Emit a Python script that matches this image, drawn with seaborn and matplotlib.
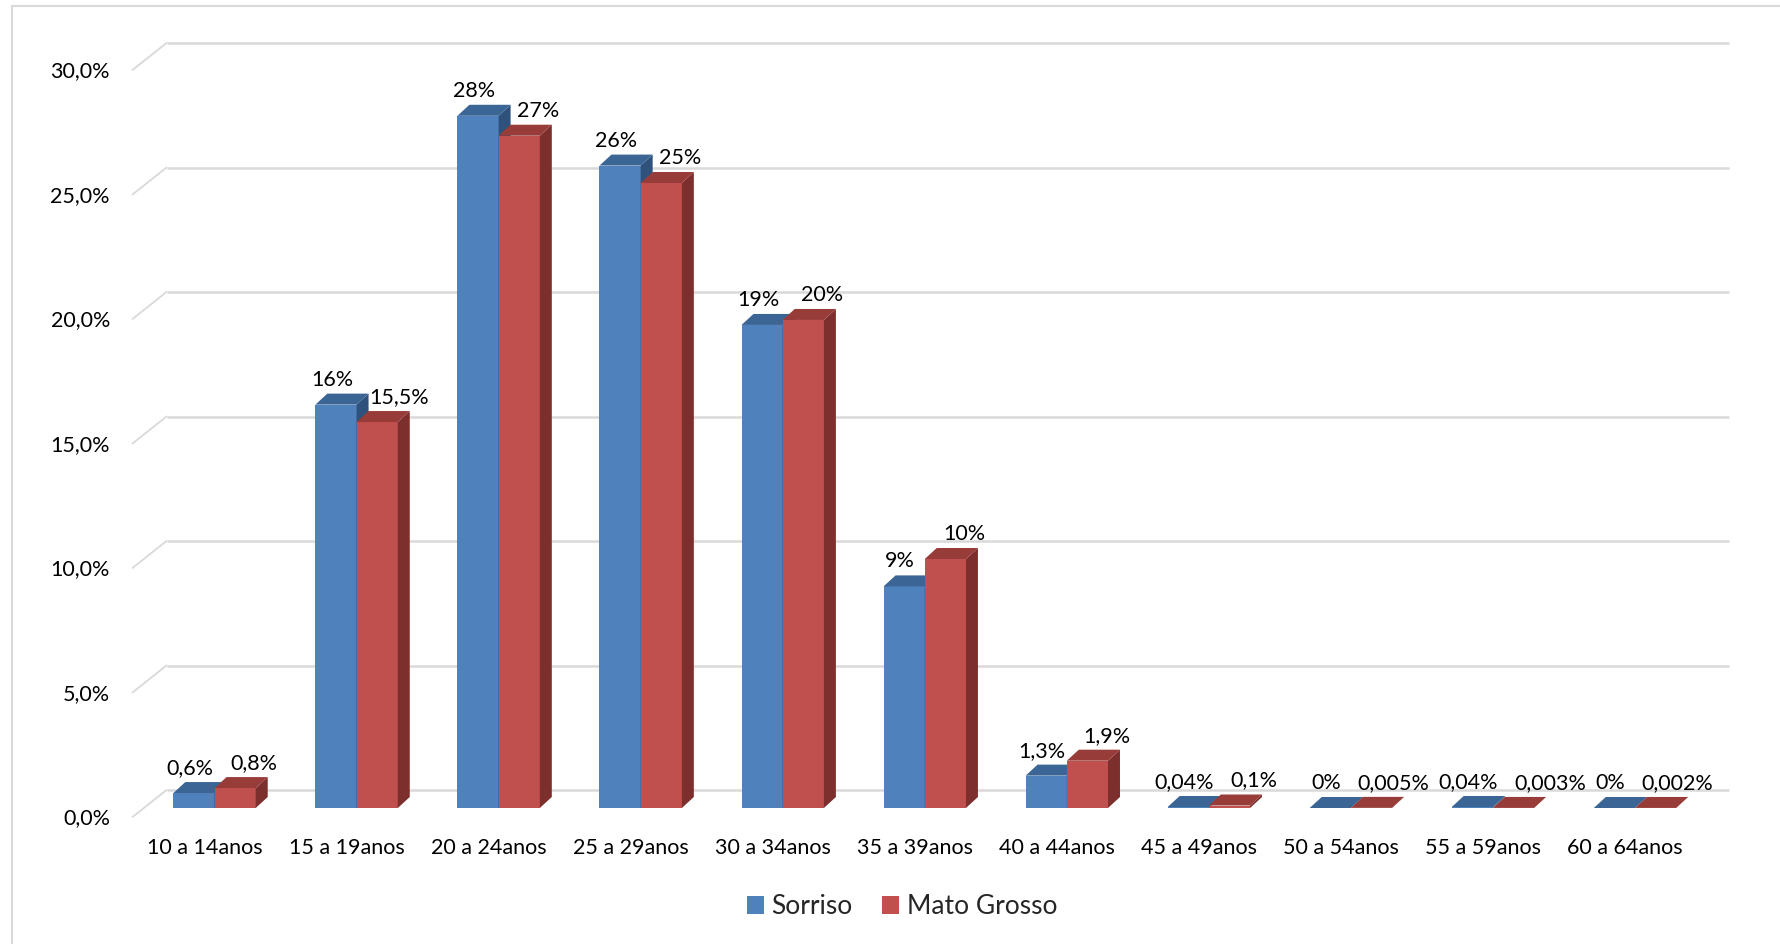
import numpy as np
import pandas as pd
import matplotlib
matplotlib.use("Agg")
import matplotlib.pyplot as plt
import seaborn as sns
from matplotlib.patches import Polygon, Patch
from matplotlib.lines import Line2D
from matplotlib.transforms import IdentityTransform, offset_copy

# ---------------- data ----------------
categories = ["10 a 14anos", "15 a 19anos", "20 a 24anos", "25 a 29anos", "30 a 34anos",
              "35 a 39anos", "40 a 44anos", "45 a 49anos", "50 a 54anos", "55 a 59anos",
              "60 a 64anos"]
series_names = ["Sorriso", "Mato Grosso"]
sorriso = [0.6, 16.2, 27.8, 25.8, 19.4, 8.9, 1.3, 0.04, 0.0, 0.04, 0.0]
mato_grosso = [0.8, 15.5, 27.0, 25.1, 19.6, 10.0, 1.9, 0.1, 0.005, 0.003, 0.002]
sorriso_labels = ["0,6%", "16%", "28%", "26%", "19%", "9%", "1,3%", "0,04%", "0%", "0,04%", "0%"]
mato_grosso_labels = ["0,8%", "15,5%", "27%", "25%", "20%", "10%", "1,9%", "0,1%", "0,005%", "0,003%", "0,002%"]
y_ticks = [0, 5, 10, 15, 20, 25, 30]
y_tick_labels = ["0,0%", "5,0%", "10,0%", "15,0%", "20,0%", "25,0%", "30,0%"]

# ---------------- style ----------------
front_colors = ["#4F81BD", "#C0504D"]
top_colors = ["#3B6594", "#983C3A"]
side_colors = ["#2F527C", "#7D2F2D"]
grid_color = "#D9D9D9"
FS = 15.5

sns.set_theme(style="white")
plt.rcParams["font.family"] = ["Lato", "DejaVu Sans"]

W, H = 1780, 944
fig = plt.figure(figsize=(W / 100, H / 100), dpi=100)
fig.patch.set_facecolor("white")
ax = fig.add_axes([143.5 / W, 136 / H, (1706 - 143.5) / W, 747 / H])

n = len(categories)
df = pd.DataFrame({
    "Faixa": categories * 2,
    "Valor": sorriso + mato_grosso,
    "Local": [series_names[0]] * n + [series_names[1]] * n,
})
sns.barplot(data=df, x="Faixa", y="Valor", hue="Local", hue_order=series_names,
            order=categories, palette=front_colors, width=0.58, saturation=1,
            ax=ax, legend=False, linewidth=0, edgecolor="none", errorbar=None)
ax.set_xlim(-0.5, n - 0.5)
ax.set_ylim(0, 30)
ax.axis("off")
ax.patch.set_alpha(0)

# 3D geometry (pixels)
DX, DY = 12, 11        # bar depth
FX, FY = -11, -9       # front plane relative to bar front faces
BX, BY = 23, 18        # back wall relative to bar front faces

to_px = ax.transData.transform

# back gridlines + left diagonals
for v in y_ticks:
    p0 = to_px((-0.5, v))
    p1 = to_px((n - 0.5, v))
    fig.add_artist(Line2D([p0[0] + BX, p1[0] + BX], [p0[1] + BY, p1[1] + BY],
                          transform=IdentityTransform(), color=grid_color, lw=1.8,
                          zorder=-1, solid_capstyle="butt"))
    fig.add_artist(Line2D([p0[0] + FX, p0[0] + BX], [p0[1] + FY, p0[1] + BY],
                          transform=IdentityTransform(), color=grid_color, lw=1.3,
                          zorder=-1))

# 3D faces for bars
for k, cont in enumerate(ax.containers):
    for bar in cont:
        bar.set_zorder(2 + k)
        x0 = bar.get_x()
        x1 = x0 + bar.get_width()
        h = bar.get_height()
        (px0, pb), (px1, pt) = to_px((x0, 0)), to_px((x1, h))
        side = Polygon([(px1, pb), (px1, pt), (px1 + DX, pt + DY), (px1 + DX, pb + DY)],
                       closed=True, transform=IdentityTransform(), facecolor=side_colors[k],
                       edgecolor="none", zorder=2 + k + 0.3, clip_on=False)
        top = Polygon([(px0, pt), (px1, pt), (px1 + DX, pt + DY), (px0 + DX, pt + DY)],
                      closed=True, transform=IdentityTransform(), facecolor=top_colors[k],
                      edgecolor="none", zorder=2 + k + 0.4, clip_on=False)
        ax.add_patch(side)
        ax.add_patch(top)

# data labels (second series nudged right if it would collide with the first)
renderer = fig.canvas.get_renderer()
label_sets = [sorriso_labels, mato_grosso_labels]
label_dx = [-4, 19]
GAP = 16
blue_texts = []
for k, cont in enumerate(ax.containers):
    for j, (bar, lab) in enumerate(zip(cont, label_sets[k])):
        cx = bar.get_x() + bar.get_width() / 2
        tr = offset_copy(ax.transData, fig=fig, x=label_dx[k], y=19, units="dots")
        t = ax.text(cx, bar.get_height(), lab, transform=tr, ha="center", va="baseline",
                    fontsize=FS, color="black", zorder=10, clip_on=False)
        if k == 0:
            blue_texts.append(t)
        else:
            bb_red = t.get_window_extent(renderer)
            bb_blue = blue_texts[j].get_window_extent(renderer)
            overlap_y = bb_red.y0 < bb_blue.y1 and bb_blue.y0 < bb_red.y1
            need = bb_blue.x1 + GAP - bb_red.x0
            if overlap_y and need > 0:
                t.set_transform(offset_copy(ax.transData, fig=fig, x=label_dx[k] + need,
                                            y=19, units="dots"))

# category labels (front plane)
tr_x = offset_copy(ax.transData, fig=fig, x=-10, y=-45.5, units="dots")
for i, c in enumerate(categories):
    ax.text(i, 0, c, transform=tr_x, ha="center", va="baseline", fontsize=FS,
            color="black", clip_on=False)

# value-axis labels (front plane)
tr_y = offset_copy(ax.transData, fig=fig, x=-33.5, y=-16.5, units="dots")
for v, lab in zip(y_ticks, y_tick_labels):
    ax.text(-0.5, v, lab, transform=tr_y, ha="right", va="baseline", fontsize=FS,
            color="black", clip_on=False)

# legend
handles = [Patch(facecolor=front_colors[0], edgecolor="none"),
           Patch(facecolor=front_colors[1], edgecolor="none")]
fig.legend(handles, series_names, loc="center", bbox_to_anchor=(902 / W, 37 / H),
           ncol=2, frameon=False, fontsize=19, handlelength=0.65, handleheight=0.65,
           handletextpad=0.3, columnspacing=1.1, borderpad=0)

# chart border (light gray)
fig.add_artist(Line2D([12, 12], [0, H - 6], transform=IdentityTransform(),
                      color=grid_color, lw=1.5, zorder=-2))
fig.add_artist(Line2D([12, W], [H - 6, H - 6], transform=IdentityTransform(),
                      color=grid_color, lw=1.5, zorder=-2))

fig.savefig("out.png", dpi=100, facecolor="white")
